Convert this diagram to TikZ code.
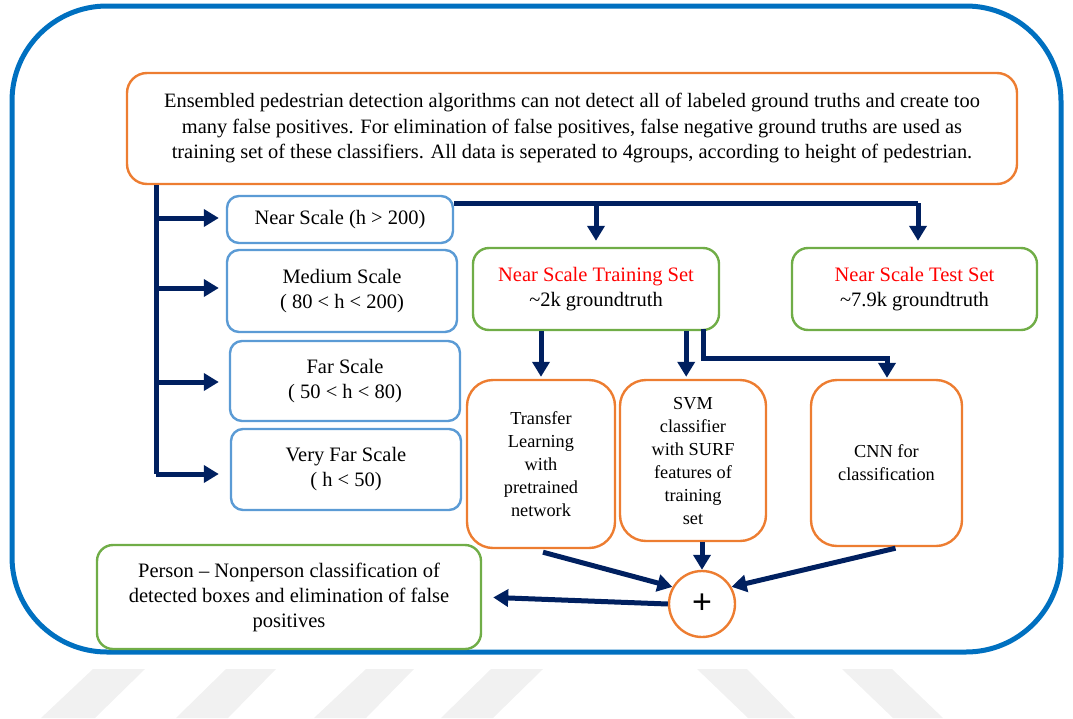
\documentclass[tikz,border=0pt]{standalone}
\usepackage{fontspec}
\setmainfont{Liberation Serif}
\newfontfamily\plusfont{Liberation Sans}
\usetikzlibrary{arrows.meta,calc}
\definecolor{frameblue}{HTML}{0070C0}
\definecolor{boxblue}{HTML}{5B9BD5}
\definecolor{boxorange}{HTML}{ED7D31}
\definecolor{boxgreen}{HTML}{70AD47}
\definecolor{navy}{HTML}{002060}
\definecolor{wmgray}{HTML}{F1F1F1}
\begin{document}
\begin{tikzpicture}[x=1pt,y=-1pt,
  basebox/.style={draw, line width=2.4pt, align=center, inner sep=0pt, fill=white},
  bigtext/.style={font=\fontsize{20.5}{25}\selectfont},
  smalltext/.style={font=\fontsize{18.3}{23}\selectfont},
  bluebox/.style={basebox, draw=boxblue, rounded corners=12pt, bigtext},
  greenbox/.style={basebox, draw=boxgreen, rounded corners=16pt, bigtext},
  orangebox/.style={basebox, draw=boxorange, rounded corners=26pt, smalltext},
  topbox/.style={basebox, draw=boxorange, rounded corners=20pt, font=\fontsize{20.4}{25.5}\selectfont},
  conn/.style={draw=navy, line width=5pt},
  arr/.style={conn, -{Triangle[length=15pt,width=17pt]}},
  wm/.style={fill=wmgray, draw=none}
]
\useasboundingbox (0,0) rectangle (1073,718);
% watermark stripes
\fill[wm] (41,718) -- (93,669) -- (145,669) -- (95,718) -- cycle;
\fill[wm] (176,718) -- (226,669) -- (276,669) -- (228,718) -- cycle;
\fill[wm] (314,718) -- (366,669) -- (414,669) -- (366,718) -- cycle;
\fill[wm] (441,718) -- (491,669) -- (543,669) -- (493,718) -- cycle;
\fill[wm] (697,669) -- (747,669) -- (795,718) -- (748,718) -- cycle;
\fill[wm] (842,669) -- (892,669) -- (943,718) -- (893,718) -- cycle;
% outer frame
\draw[frameblue, line width=5pt, rounded corners=95pt] (12,6) rectangle (1061,652);

% nodes
\node[topbox, minimum width=890pt, minimum height=111pt] (top) at (572,128.5)
  {Ensembled pedestrian detection algorithms can not detect all of labeled ground truths and create too\\
   many false positives. For elimination of false positives, false negative ground truths are used as\\
   training set of these classifiers. All data is seperated to 4groups, according to height of pedestrian.};
\node[bluebox, minimum width=226pt, minimum height=47pt] (near) at (340,219.5) {Near Scale (h > 200)};
\node[bluebox, minimum width=230pt, minimum height=82pt] (medium) at (342,291) {Medium Scale\\( 80 < h < 200)};
\node[bluebox, minimum width=230pt, minimum height=80pt] (far) at (345,381) {Far Scale\\( 50 < h < 80)};
\node[bluebox, minimum width=230pt, minimum height=81pt] (vfar) at (346,469.5) {Very Far Scale\\( h < 50)};
\node[greenbox, minimum width=246pt, minimum height=82pt] (train) at (596,289)
  {{\color{red}Near Scale Training Set}\\\textasciitilde 2k groundtruth};
\node[greenbox, minimum width=245pt, minimum height=82pt] (test) at (914.5,289)
  {{\color{red}Near Scale Test Set}\\\textasciitilde 7.9k groundtruth};
\node[orangebox, minimum width=148pt, minimum height=168pt] (transfer) at (541,464)
  {Transfer\\Learning\\with\\pretrained\\network};
\node[orangebox, minimum width=146pt, minimum height=161pt, text depth=-4pt] (svm) at (693,460.5)
  {SVM\\classifier\\with SURF\\features of\\training\\set};
\node[orangebox, minimum width=151pt, minimum height=166pt] (cnn) at (886.5,463)
  {CNN for\\classification};
\node[draw=boxorange, line width=2.4pt, circle, minimum size=66pt, inner sep=0pt, fill=white,
  font=\plusfont\fontsize{34}{34}\selectfont] (plus) at (702,604) {+};
\node[greenbox, minimum width=384pt, minimum height=104pt] (result) at (289,597)
  {Person -- Nonperson classification of\\detected boxes and elimination of false\\positives};

% left bus
\coordinate (bus) at (156,474);
\draw[conn] (top.south -| bus) -- (bus);
\draw[arr, shorten >=7pt] (bus |- 0,218) -- (near.west |- 0,218);
\draw[arr, shorten >=7pt] (bus |- 0,288) -- (medium.west |- 0,288);
\draw[arr, shorten >=10pt] (bus |- 0,382) -- (far.west |- 0,382);
\draw[arr, shorten >=11pt] (bus) -- (vfar.west |- bus);

% near -> training/test
\coordinate (tr) at (918,203);
\draw[conn] (near.east |- tr) -- (tr);
\draw[arr, shorten >=6pt] (train.north |- tr) -- (train.north);
\draw[arr, shorten >=6pt] (tr) -- (tr |- test.north);

% training -> classifiers
\draw[arr, shorten >=2pt] (transfer.north |- train.south) -- (transfer.north);
\coordinate (s1) at ($(train.south east)+(-34,0)$);
\draw[arr, shorten >=2pt] (s1) -- (s1 |- svm.north);
\coordinate (s2) at ($(train.south east)+(-17,-2)$);
\coordinate (k) at (887,358);
\draw[arr, shorten >=1pt] (s2) |- (k) -- (k |- cnn.north);

% classifiers -> plus
\draw[arr] ($(transfer.south)+(2,3)$) -- (plus.150);
\draw[arr] (plus.north |- svm.south) -- (plus.north);
\draw[arr] ($(cnn.south)+(9,1)$) -- (plus.30);
\draw[arr, shorten >=11pt] (plus.west) -- (result.east);
\end{tikzpicture}
\end{document}
